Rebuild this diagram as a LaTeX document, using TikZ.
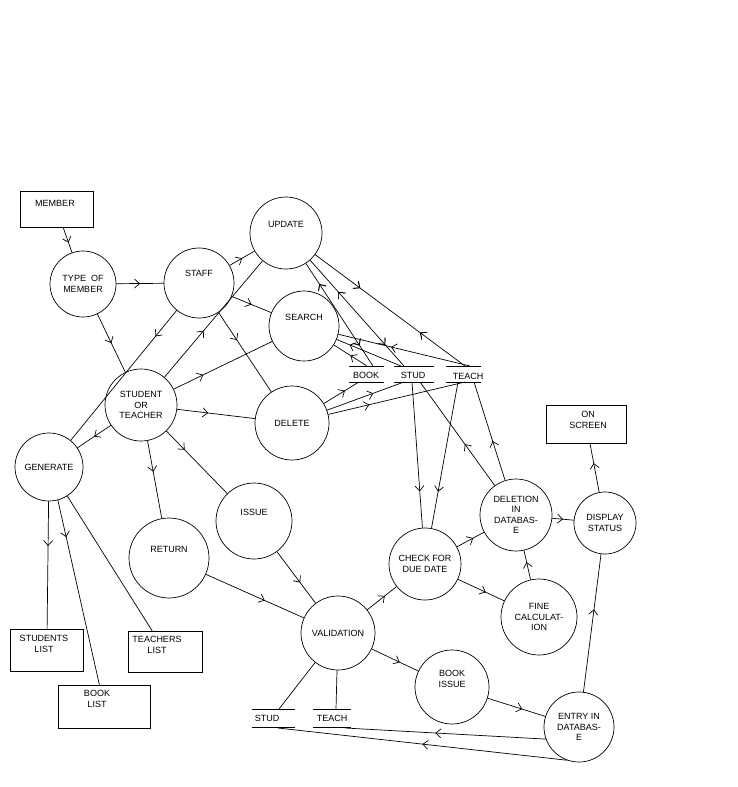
\documentclass[tikz,border=0pt]{standalone}
\usepackage{fontspec}
\setmainfont{Liberation Sans}
\usetikzlibrary{arrows.meta,decorations.markings}
\begin{document}
\begin{tikzpicture}[x=1pt,y=-1pt,line width=0.7pt,
  font=\fontsize{9}{10.5}\selectfont,
  proc/.style={draw,circle,align=center,inner sep=0pt},
  ext/.style={draw,rectangle,align=center,anchor=north west},
  lbl/.style={align=center},
  mid/.style={postaction={decorate},decoration={markings,mark=at position #1 with {\arrow{Straight Barb[length=5pt,width=9pt]}}}},
  mid/.default=0.5,
  rmid/.style={postaction={decorate},decoration={markings,mark=at position #1 with {\arrowreversed{Straight Barb[length=5pt,width=9pt]}}}}]
\useasboundingbox (0,0) rectangle (737,787);
% external boxes
\node[ext,minimum width=73pt,minimum height=36pt] (member) at (20,191) {};
\node at (55,203) {MEMBER};
\node[ext,minimum width=80pt,minimum height=38pt] (onscreen) at (546,405) {};
\node[lbl] at (588,420) {ON\\SCREEN};
\node[ext,minimum width=73pt,minimum height=42pt] (slist) at (10,629) {};
\node[lbl] at (44,644) {STUDENTS\\LIST};
\node[ext,minimum width=74pt,minimum height=41pt] (tlist) at (128,631) {};
\node[lbl] at (157,645) {TEACHERS\\LIST};
\node[ext,minimum width=92pt,minimum height=43pt] (blist) at (58,685) {};
\node[lbl] at (97,699) {BOOK\\LIST};
% processes
\node[proc,minimum size=66pt] (type) at (83,284) {TYPE \ OF\\MEMBER};
\node[proc,minimum size=70pt] (staff) at (199,283) {STAFF\\[8pt]};
\node[proc,minimum size=72pt] (update) at (286,233) {UPDATE\\[6pt]};
\node[proc,minimum size=70pt] (search) at (304,326) {SEARCH\\[6pt]};
\node[proc,minimum size=74pt] (delete) at (292,423) {DELETE};
\node[proc,minimum size=72pt] (stu) at (141,405) {STUDENT\\OR\\TEACHER};
\node[proc,minimum size=68pt] (gen) at (49,467) {GENERATE};
\node[proc,minimum size=76pt] (issue) at (254,521) {ISSUE\\[6pt]};
\node[proc,minimum size=80pt] (return) at (169,558) {RETURN\\[6pt]};
\node[proc,minimum size=74pt] (valid) at (338,633) {VALIDATION};
\node[proc,minimum size=72pt] (check) at (425,564) {CHECK FOR\\DUE DATE};
\node[proc,minimum size=72pt] (deletion) at (516,515) {DELETION\\IN\\DATABAS-\\E};
\node[proc,minimum size=76pt] (fine) at (539,617) {FINE\\CALCULAT-\\ION};
\node[proc,minimum size=62pt] (display) at (605,523) {DISPLAY\\STATUS};
\node[proc,minimum size=74pt] (bissue) at (452,687) {BOOK\\ISSUE\\[6pt]};
\node[proc,minimum size=70pt] (entry) at (579,727) {ENTRY IN\\DATABAS-\\E};
% data stores
\draw (349,366) -- (384,366) (349,382) -- (384,382);
\node at (366,375) {BOOK};
\draw (394,366) -- (434,366) (394,382) -- (434,382);
\node at (413,375) {STUD};
\draw (446,366) -- (481,366) (446,382) -- (481,382);
\node at (468,376) {TEACH};
\draw (252,709) -- (295,709) (252,727) -- (295,727);
\node at (267,718) {STUD};
\draw (313,709) -- (351,709) (313,727) -- (351,727);
\node at (332,718) {TEACH};
\coordinate (bookT) at (373,366); \coordinate (bookT2) at (367,366);
\coordinate (bookB) at (359,382);
\coordinate (studT) at (404,366); \coordinate (studT2) at (401,366);
\coordinate (studB) at (412,382); \coordinate (studB2) at (404,382);
\coordinate (studB3) at (420,382);
\coordinate (teachT) at (465,366); \coordinate (teachT2) at (470,366);
\coordinate (teachB) at (465,382); \coordinate (teachB2) at (458,382);
\coordinate (teachB3) at (474,382);
\coordinate (stud2T) at (279,709); \coordinate (stud2B) at (278,728);
\coordinate (teach2T) at (336,709); \coordinate (teach2B) at (345,728);
% connectors
\draw[mid=0.6] (member) -- (type);
\draw[mid] (type) -- (staff);
\draw[mid] (type) -- (stu);
\draw[mid] (staff) -- (update);
\draw[mid] (staff) -- (search);
\draw[mid=0.35] (staff) -- (delete);
\draw[mid=0.2] (staff) -- (gen);
\draw[mid=0.4] (stu) -- (update);
\draw[mid=0.3] (stu) -- (search);
\draw[mid=0.4] (stu) -- (delete);
\draw[mid] (stu) -- (gen);
\draw[mid=0.3] (stu) -- (issue);
\draw[mid=0.4] (stu) -- (return);
\draw[mid=0.35] (gen) -- (slist);
\draw[mid=0.2] (gen.285) -- (blist);
\draw (gen) -- (tlist);
\draw[mid=0.6] (return) -- (valid);
\draw[mid=0.6] (issue) -- (valid);
\draw[mid=0.6] (valid) -- (check);
\draw[mid=0.6] (valid) -- (bissue);
\draw (valid) -- (stud2T);
\draw (valid) -- (teach2T);
\draw[mid=0.6] (bissue) -- (entry);
\draw[mid=0.55] (entry.200) -- (teach2B);
\draw[mid=0.5] (entry.250) -- (stud2B);
\draw[mid=0.6] (entry) -- (display);
\draw[mid=0.6] (display) -- (onscreen);
\draw[mid] (deletion) -- (display);
\draw[mid=0.6] (check) -- (deletion);
\draw[mid=0.6] (check) -- (fine);
\draw[mid=0.6] (fine) -- (deletion);
\draw[mid=0.75] (studB) -- (check);
\draw[mid=0.75] (teachB2) -- (check);
\draw[mid=0.4] (deletion) -- (studB3);
\draw[mid=0.4] (deletion) -- (teachB3);
\draw[mid=0.3,rmid=0.7] (update) -- (teachT);
\draw[mid=0.8,rmid=0.2] (update) -- (bookT);
\draw[mid=0.8,rmid=0.3] (update) -- (studT);
\draw[mid=0.5] (bookT2) -- (search);
\draw[mid=0.8] (studT2) -- (search);
\draw[mid=0.6] (teachT2) -- (search);
\draw[mid=0.6] (delete) -- (bookB);
\draw[mid=0.6] (delete) -- (studB2);
\draw[mid=0.3] (delete) -- (teachB);
\end{tikzpicture}
\end{document}
